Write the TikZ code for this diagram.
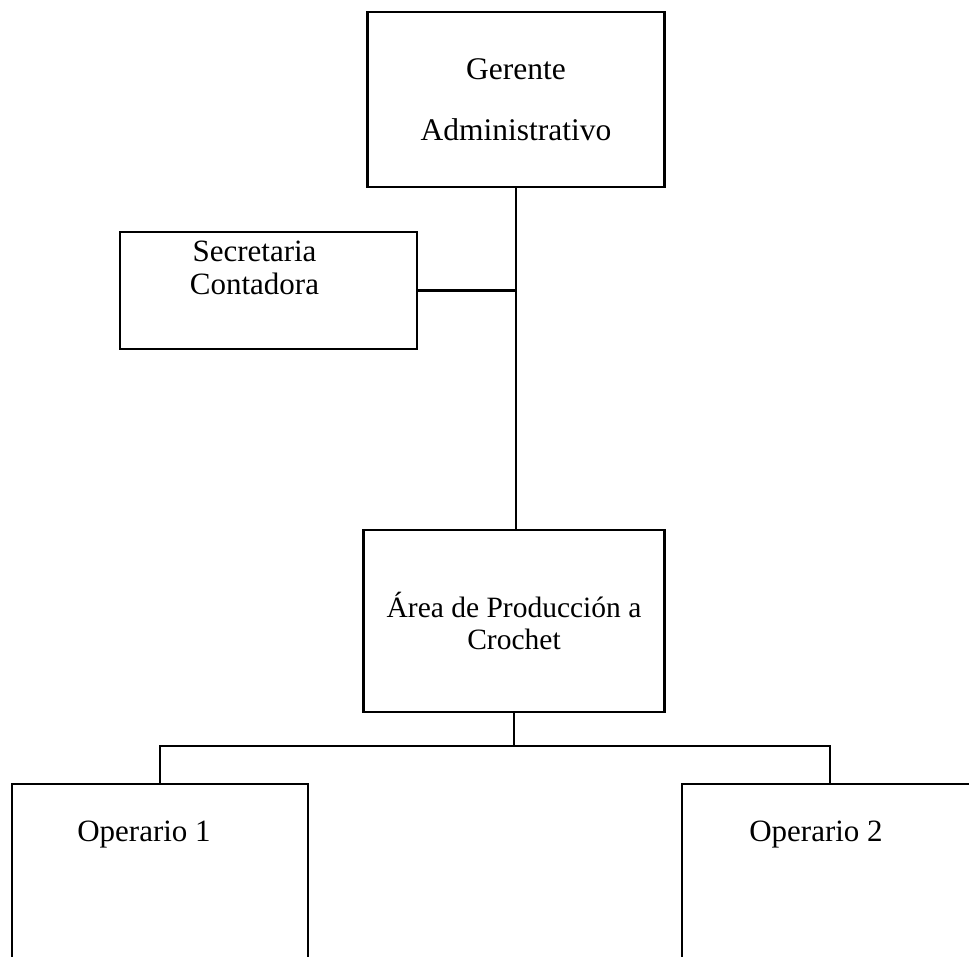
\documentclass[tikz,border=0pt]{standalone}
\usepackage{fontspec}
\setmainfont{Liberation Serif}

\begin{document}
\begin{tikzpicture}[x=1pt, y=-1pt,
  orgbox/.style={draw, rectangle, line width=2.4pt, inner sep=0pt, minimum width=297pt, align=center, font=\fontsize{31}{32}\selectfont},
  toplabel/.style={anchor=north, inner sep=0pt, align=center, font=\fontsize{31}{33}\selectfont}]
\useasboundingbox (0,0) rectangle (969,956);
\node[orgbox, minimum height=175pt, font=\fontsize{31.5}{61}\selectfont] (ger) at (516,99.5) {Gerente\\Administrativo};
\node[orgbox, minimum height=117pt, label={[toplabel, xshift=-14pt, yshift=-10pt]north:Secretaria\\Contadora}] (sec) at (268.5,290.5) {};
\node[orgbox, minimum height=182pt, minimum width=301pt, font=\fontsize{29.5}{32}\selectfont] (area) at (514,621) {Área de Producción a\\Crochet};
\node[orgbox, minimum width=296pt, minimum height=260pt, label={[toplabel, xshift=-16pt, yshift=-38pt]north:Operario 1}] (op1) at (160,914) {};
\node[orgbox, minimum width=296pt, minimum height=260pt, label={[toplabel, xshift=-14pt, yshift=-38pt]north:Operario 2}] (op2) at (830,914) {};
\draw[line width=2.4pt] (ger.south) -- (ger.south |- area.north);
\draw[line width=2.4pt] (sec.east) -- (sec.east -| ger.south);
\draw[line width=2.4pt] (area.south) -- ++(0,33) coordinate (bus);
\draw[line width=2.4pt] (op1.north) |- (bus) -| (op2.north);
\end{tikzpicture}
\end{document}
